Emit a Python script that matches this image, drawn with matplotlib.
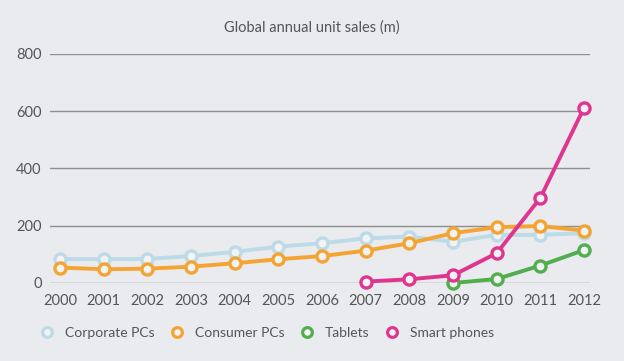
import matplotlib
matplotlib.use("Agg")
import matplotlib.pyplot as plt
from matplotlib.lines import Line2D

years = list(range(2000, 2013))
corporate_pcs = [84, 83, 84, 94, 109, 127, 139, 156, 162, 144, 168, 168, 174]
consumer_pcs = [54, 48, 50, 57, 69, 83, 94, 113, 139, 174, 195, 199, 183]
tablet_years = [2009, 2010, 2011, 2012]
tablets = [0, 14, 61, 115]
phone_years = [2007, 2008, 2009, 2010, 2011, 2012]
smart_phones = [5, 13, 27, 104, 297, 612]

series = [
    ("Corporate PCs", years, corporate_pcs, "#bcdbe6"),
    ("Consumer PCs", years, consumer_pcs, "#f4a433"),
    ("Tablets", tablet_years, tablets, "#52ae4c"),
    ("Smart phones", phone_years, smart_phones, "#df3590"),
]

plt.rcParams["font.family"] = ["Lato", "DejaVu Sans"]
bg = "#e9ebee"
text_col = "#555555"

fig = plt.figure(figsize=(6.24, 3.61), dpi=100, facecolor=bg)
ax = fig.add_axes([50 / 624, 78 / 361, 540 / 624, 229 / 361])
ax.set_facecolor("none")

for name, xs, ys, col in series:
    ax.plot(xs, ys, color=col, lw=2.8, marker="o", ms=8,
            mfc="#f2f3f5", mec=col, mew=2.4, clip_on=False, zorder=3)

ax.set_xlim(2000 - 10 / 43.67, 2012 + 6 / 43.67)
ax.set_ylim(0, 800)
ax.set_yticks([0, 200, 400, 600, 800])
ax.set_xticks(years)
ax.set_xticklabels([str(y) for y in years])
ax.grid(axis="y", color="#8f8f8f", lw=1)
ax.set_axisbelow(True)
for s in ax.spines.values():
    s.set_visible(False)
ax.tick_params(length=0, colors=text_col, labelsize=10.5)
ax.tick_params(axis="y", pad=6)
ax.tick_params(axis="x", pad=8)

fig.text(0.5, 1 - 28 / 361, "Global annual unit sales (m)", ha="center",
         va="center", color=text_col, fontsize=10.5)

handles = [Line2D([], [], ls="none", marker="o", ms=7, mfc="#f2f3f5",
                  mec=col, mew=2.3) for _, _, _, col in series]
fig.legend(handles, [s[0] for s in series], loc="center left",
           bbox_to_anchor=(26 / 624, 1 - 333 / 361), ncol=4, frameon=False,
           fontsize=10, labelcolor=text_col, handletextpad=0.7,
           columnspacing=1.0, handlelength=1.2)

fig.savefig("out.png", dpi=100, facecolor=bg)
